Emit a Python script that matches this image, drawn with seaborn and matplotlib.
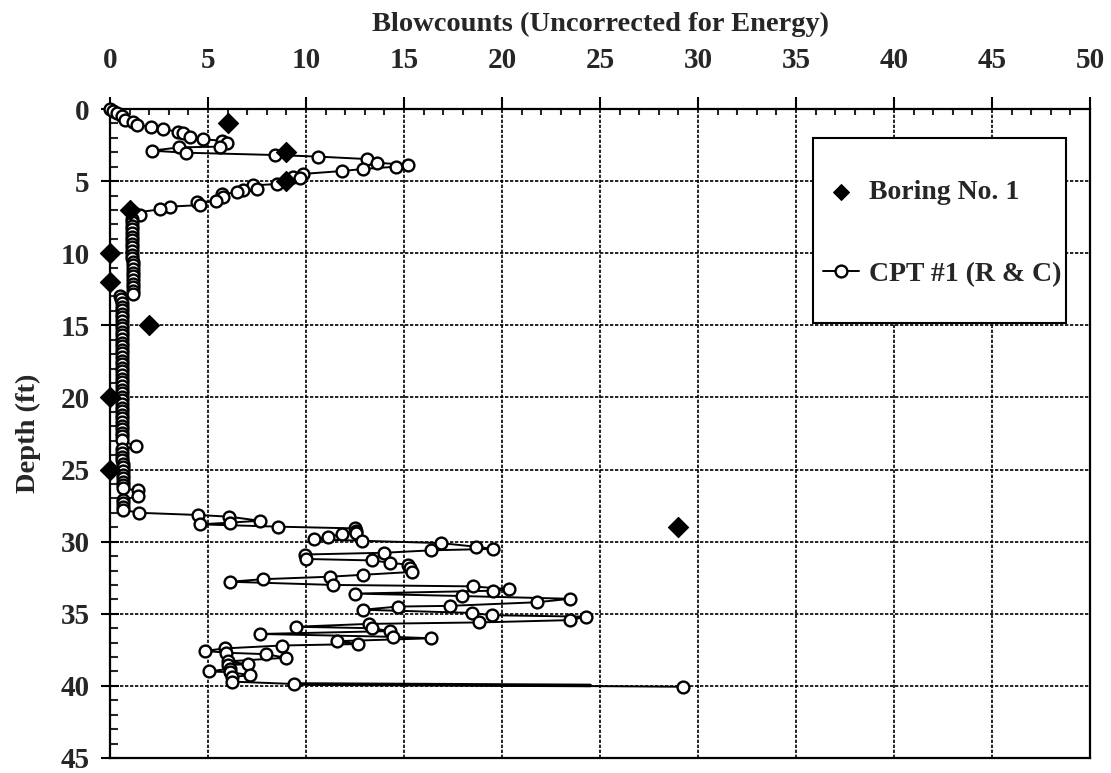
import numpy as np
import pandas as pd
import seaborn as sns
import matplotlib
matplotlib.use("Agg")
import matplotlib.pyplot as plt
from matplotlib.ticker import MultipleLocator
from matplotlib.patches import Rectangle

sns.set_style("white")
plt.rcParams['font.family'] = ['Liberation Serif', 'DejaVu Serif']
plt.rcParams['font.weight'] = 'bold'

# Boring No. 1 (SPT blowcounts)
boring_depth = [1, 3, 5, 7, 10, 12, 15, 20, 25, 29]
boring_n = [6, 9, 9, 1, 0, 0, 2, 0, 0, 29]

# CPT #1 (R & C) converted blowcounts, in depth order
# upper layer 0 - 7.4 ft
top_depth = [0.0, 0.15, 0.3, 0.5, 0.76, 0.88, 1.1, 1.22, 1.41, 1.57, 1.69, 1.92, 2.1, 2.2, 2.34,
             2.61, 2.66, 2.89, 3.03, 3.19, 3.3, 3.47, 3.72, 3.88, 4.0, 4.16, 4.3, 4.5, 4.74, 4.81,
             5.2, 5.3, 5.55, 5.6, 5.78, 5.9, 6.13, 6.38, 6.47, 6.66, 6.77, 6.96, 7.2, 7.35]
top_n = [0.0, 0.15, 0.35, 0.6, 0.77, 1.19, 1.36, 2.09, 2.72, 3.49, 3.74, 4.08, 4.76, 5.7, 5.99,
         5.61, 3.54, 2.13, 3.86, 8.42, 10.6, 13.1, 13.6, 15.2, 14.6, 12.9, 11.85, 9.86, 9.35, 9.69,
         8.5, 7.3, 7.48, 6.8, 6.46, 5.7, 5.78, 5.39, 4.46, 4.59, 3.06, 2.55, 1.2, 1.53]

# soft layer 7.6 - 27.8 ft
soft_depth = [7.6, 7.85, 8.1, 8.35, 8.6, 8.85, 9.1, 9.35, 9.6, 9.85, 10.1, 10.35, 10.6, 10.85,
              11.1, 11.35, 11.6, 11.85, 12.1, 12.35, 12.6, 12.85,
              13.0, 13.2, 13.45, 13.7, 13.95, 14.2, 14.45, 14.7, 14.95, 15.2, 15.45, 15.7, 15.95,
              16.2, 16.45, 16.7, 16.95, 17.2, 17.45, 17.7, 17.95, 18.2, 18.45, 18.7, 18.95, 19.2,
              19.45, 19.7, 19.95, 20.2, 20.45, 20.7, 20.95, 21.2, 21.45, 21.7, 21.95, 22.2, 22.45,
              22.7, 22.95, 23.4,
              23.6, 23.85, 24.1, 24.35, 24.6, 24.85, 25.1, 25.35, 25.6, 25.85, 26.1, 26.3,
              26.45, 26.85, 27.1, 27.35, 27.6, 27.8]
soft_n = [1.1, 1.1, 1.1, 1.12, 1.12, 1.12, 1.12, 1.14, 1.14, 1.14, 1.14, 1.14, 1.15, 1.15,
          1.15, 1.15, 1.15, 1.15, 1.15, 1.15, 1.15, 1.15,
          0.5, 0.55, 0.6, 0.6, 0.6, 0.6, 0.6, 0.6, 0.6, 0.6, 0.6, 0.6, 0.6,
          0.6, 0.6, 0.6, 0.6, 0.6, 0.6, 0.6, 0.6, 0.6, 0.6, 0.6, 0.6, 0.6,
          0.6, 0.6, 0.6, 0.6, 0.6, 0.6, 0.6, 0.6, 0.6, 0.6, 0.6, 0.6, 0.6,
          0.6, 0.6, 1.31,
          0.6, 0.62, 0.62, 0.62, 0.65, 0.65, 0.65, 0.65, 0.65, 0.65, 0.65, 0.65,
          1.41, 1.41, 0.65, 0.65, 0.68, 0.68]

# sand layer 28 - 40 ft
sand_depth = [28.0, 28.15, 28.27, 28.55, 28.68, 28.8, 28.96, 29.08, 29.25, 29.4,
              29.5, 29.65, 29.84, 29.94, 30.1, 30.35, 30.5, 30.6, 30.77, 30.89, 31.2, 31.3, 31.46,
              31.6, 31.85, 32.1, 32.3, 32.43, 32.6, 32.78, 33.0, 33.1, 33.3, 33.4, 33.6, 33.77,
              33.96, 34.2, 34.45, 34.5, 34.72, 34.94, 35.1, 35.2, 35.44, 35.6, 35.7, 35.9, 36.0,
              36.2, 36.4, 36.6, 36.7, 36.9, 37.1, 37.2, 37.4, 37.57, 37.7, 37.8, 38.05, 38.3,
              38.5, 38.55, 38.8, 39.0, 39.05, 39.25, 39.4, 39.7, 39.87, 40.06]
sand_n = [1.5, 4.5, 6.09, 7.65, 6.12, 4.59, 8.59, 12.5, 12.55, 12.55,
          11.82, 11.1, 10.4, 12.84, 16.9, 18.66, 19.56, 16.4, 13.98, 9.95, 10.0, 13.35, 14.29,
          15.2, 15.3, 15.4, 12.89, 11.22, 7.82, 6.12, 11.39, 18.5, 20.37, 19.56, 12.5, 17.94,
          23.47, 21.8, 17.35, 14.7, 12.89, 18.45, 19.47, 24.27, 23.47, 18.83, 13.23, 9.47, 13.35,
          14.29, 7.65, 14.46, 16.4, 11.6, 12.64, 8.76, 5.87, 4.85, 5.9, 7.94, 8.98, 6.0,
          7.02, 6.0, 6.12, 5.07, 6.12, 7.14, 6.2, 6.2, 9.39, 29.25]

# overlapping segment at 40 ft (drawn heavier in the original)
tail_depth = [39.87, 39.97]
tail_n = [9.39, 24.5]

cpt = pd.DataFrame({"depth": top_depth + soft_depth + sand_depth,
                    "n": top_n + soft_n + sand_n})
boring = pd.DataFrame({"depth": boring_depth, "n": boring_n})
tail = pd.DataFrame({"depth": tail_depth, "n": tail_n})

fig = plt.figure(figsize=(11.11, 7.73), dpi=100)
ax = fig.add_axes([110/1111, 1 - 758/773, 980/1111, 649/773])

sns.lineplot(data=tail, x="n", y="depth", sort=False, estimator=None, ax=ax,
             color="black", linewidth=2.6, zorder=3)
sns.lineplot(data=cpt, x="n", y="depth", sort=False, estimator=None, ax=ax,
             color="black", linewidth=1.4, marker="o", markersize=8.5,
             markerfacecolor="white", markeredgecolor="black", markeredgewidth=1.7,
             label="CPT #1 (R & C)", zorder=4, clip_on=False)
sns.scatterplot(data=boring, x="n", y="depth", ax=ax, marker="D", s=105,
                color="black", edgecolor="black", label="Boring No. 1",
                zorder=6, clip_on=False)

ax.set_xlim(0, 50)
ax.set_ylim(45, 0)

ax.xaxis.set_major_locator(MultipleLocator(5))
ax.xaxis.set_minor_locator(MultipleLocator(1))
ax.yaxis.set_major_locator(MultipleLocator(5))
ax.yaxis.set_minor_locator(MultipleLocator(1))

ax.xaxis.tick_top()
ax.xaxis.set_label_position("top")
ax.tick_params(axis="x", which="major", top=True, bottom=False, direction="out",
               length=8.5, width=1.5, pad=17, labelsize=21, color="black")
ax.tick_params(axis="x", which="minor", top=True, bottom=False, direction="in",
               length=4.5, width=1.5)
ax.tick_params(axis="y", which="major", left=True, right=False, direction="inout",
               length=13, width=1.5, pad=8, labelsize=21, color="black")
ax.tick_params(axis="y", which="minor", left=True, right=False, direction="in",
               length=6, width=1.5)

ax.grid(True, which="major", color="black", linestyle=(0, (2, 1)), linewidth=1.2)
ax.set_axisbelow(True)
for sp in ax.spines.values():
    sp.set_visible(True)
    sp.set_color("black")
    sp.set_linewidth(1.6)

ax.set_xlabel("Blowcounts (Uncorrected for Energy)", fontsize=20.5, fontweight="bold", labelpad=11)
ax.set_ylabel("Depth (ft)", fontsize=20.5, fontweight="bold", labelpad=14)

# legend box drawn separately, entries placed inside it
ax.add_patch(Rectangle((0.717, 0.670), 0.259, 0.285, transform=ax.transAxes,
                       facecolor="white", edgecolor="black", linewidth=1.5, zorder=7))
handles, labels = ax.get_legend_handles_labels()
order = [labels.index("Boring No. 1"), labels.index("CPT #1 (R & C)")]
leg = ax.legend([handles[i] for i in order], [labels[i] for i in order],
                loc="upper left", bbox_to_anchor=(0.7276, 0.891), borderaxespad=0,
                fontsize=20, handlelength=1.3, handletextpad=0.35,
                labelspacing=2.02, borderpad=0, frameon=False, scatterpoints=1)
leg.set_zorder(8)
leg.legend_handles[0].set_sizes([65])
for t in leg.get_texts():
    t.set_fontweight("bold")

fig.savefig("out.png", dpi=100)
